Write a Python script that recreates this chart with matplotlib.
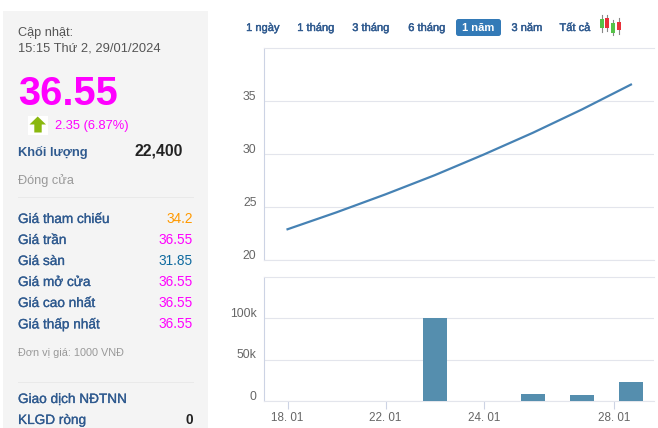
import matplotlib
matplotlib.use("Agg")
import matplotlib.pyplot as plt
import matplotlib.patheffects as pe
from matplotlib.patches import Rectangle, FancyBboxPatch, Polygon
from matplotlib.transforms import ScaledTranslation

W, H = 658, 428
plt.rcParams["font.family"] = ["Liberation Sans", "DejaVu Sans"]

# du lieu
days = [0, 1, 2, 3, 4, 5, 6, 7]
prices = [22.9, 24.5, 26.2, 28.0, 29.95, 32.0, 34.2, 36.55]
volumes = [0, 0, 0, 99500, 0, 8800, 7600, 22400]
tick_pos = [0, 2, 4, 6.66]
tick_labels = ["18. 01", "22. 01", "24. 01", "28. 01"]
price_ticks = [20, 25, 30, 35]
vol_ticks = [0, 50000, 100000]
vol_labels = ["0", "50k", "100k"]
periods = ["1 ngày", "1 tháng", "3 tháng", "6 tháng", "1 năm", "3 năm", "Tất cả"]
period_x = [263, 316, 371, 427, 478, 527, 575]
stats = [("Giá tham chiếu", "34.2", "#ff9900"),
         ("Giá trần", "36.55", "#ff00ff"),
         ("Giá sàn", "31.85", "#0f6a9f"),
         ("Giá mở cửa", "36.55", "#ff00ff"),
         ("Giá cao nhất", "36.55", "#ff00ff"),
         ("Giá thấp nhất", "36.55", "#ff00ff")]

BLUE = "#2f5a8f"
GRID = "#e3e5ec"
AXIS = "#ccd3e4"
LABEL = "#666666"


def px_axes(x0, y0, x1, y1):
    return fig.add_axes([x0 / W, 1 - y1 / H, (x1 - x0) / W, (y1 - y0) / H])


def heavy(color, w=0.2):
    return [pe.withStroke(linewidth=w, foreground=color)]


fig = plt.figure(figsize=(W / 100, H / 100), dpi=100)

# pannello sinistro + testi in coordinate pixel
bg = fig.add_axes([0, 0, 1, 1])
bg.set_xlim(0, W)
bg.set_ylim(H, 0)
bg.axis("off")
bg.add_patch(Rectangle((3, 11), 205, 417, color="#f4f4f4", lw=0))

bg.text(18, 33, "Cập nhật:", fontsize=9.2, color="#555555", va="center")
bg.text(18, 48, "15:15 Thứ 2, 29/01/2024", fontsize=9.3, color="#555555", va="center")
bg.text(18, 94, "36.55", fontsize=28.6, color="#ff00ff", va="center", fontweight="bold")
bg.add_patch(Rectangle((28, 116), 20, 19, color="white", lw=0))
bg.add_patch(Polygon([(29.5, 124.5), (37.7, 116.5), (46, 124.5), (41.7, 124.5), (41.7, 132.5),
                      (34.3, 132.5), (34.3, 124.5)], closed=True, color="#8ab80f", lw=0))
bg.text(55, 125.5, "2.35 (6.87%)", fontsize=9.3, color="#ff00ff", va="center")
bg.text(18, 152.5, "Khối lượng", fontsize=9.3, color=BLUE, va="center", fontweight="bold")
bg.text(183, 150.5, "22,400", fontsize=11.3, color="#222222", va="center", ha="right", fontweight="bold")
bg.text(18, 180.5, "Đóng cửa", fontsize=9.2, color="#999999", va="center")
bg.plot([18, 193], [197, 197], color="#e9e9e9", lw=0.7)

for i, (name, val, col) in enumerate(stats):
    y = 219 + i * 21
    bg.text(18, y, name, fontsize=9.8, color=BLUE, va="center", path_effects=heavy(BLUE))
    bg.text(192.5, y, val, fontsize=9.8, color=col, va="center", ha="right")

bg.text(18, 353.5, "Đơn vị giá: 1000 VNĐ", fontsize=7.8, color="#999999", va="center")
bg.plot([18, 193], [382, 382], color="#e9e9e9", lw=0.7)
bg.text(18, 399, "Giao dịch NĐTNN", fontsize=9.8, color=BLUE, va="center", path_effects=heavy(BLUE))
bg.text(18, 420, "KLGD ròng", fontsize=9.8, color=BLUE, va="center", path_effects=heavy(BLUE))
bg.text(192.5, 420, "0", fontsize=9.8, color="#222222", va="center", ha="right", fontweight="bold")

# bottoni periodo
bg.add_patch(FancyBboxPatch((456, 19), 45, 17, boxstyle="round,pad=0,rounding_size=2.5",
                            color="#337ab7", lw=0))
for label, x in zip(periods, period_x):
    active = label == "1 năm"
    bg.text(x, 28, label, fontsize=8, ha="center", va="center",
            color="white" if active else BLUE, fontweight="bold" if active else "normal",
            path_effects=None if active else heavy(BLUE, 0.3))

# icona candele
for x, y0, y1, w0, w1, c in [(600, 19, 28, 15, 32, "#55c248"), (605.3, 18, 28, 15, 31, "#e8303a"),
                             (611, 23, 33, 20, 35, "#55c248"), (616.5, 22, 30, 18, 34, "#e8303a")]:
    bg.plot([x + 2, x + 2], [w0, w1], color="#888888", lw=0.8)
    bg.add_patch(Rectangle((x, y0), 4, y1 - y0, color=c, lw=0, zorder=3))

# grafico prezzi
ax = px_axes(263.5, 48, 654, 260)
ax.set_facecolor("none")
ax.plot(days, prices, color="#4682b4", lw=1.6)
ax.set_ylim(20, 40)
ax.set_yticks(price_ticks)
ax.set_xlim(-0.49, 7.47)
ax.set_xticks([])

# grafico volumi
ax2 = px_axes(263.5, 276.5, 654, 401)
ax2.set_facecolor("none")
ax2.bar(days, volumes, width=0.49, color="#558eae", zorder=3)
ax2.set_ylim(0, 150000)
ax2.set_yticks(vol_ticks)
ax2.set_yticklabels(vol_labels)
ax2.set_xlim(-0.49, 7.47)
ax2.set_xticks(tick_pos)
ax2.set_xticklabels(tick_labels)

down = ScaledTranslation(0, -2 / 100, fig.dpi_scale_trans)
for a in (ax, ax2):
    a.grid(axis="y", color=GRID, lw=0.8)
    a.set_axisbelow(True)
    a.spines["right"].set_visible(False)
    for s in ("left", "bottom", "top"):
        a.spines[s].set_linewidth(0.8)
    a.spines["left"].set_color(AXIS)
    a.spines["bottom"].set_color(GRID)
    a.spines["top"].set_color(GRID)
    a.tick_params(axis="y", length=0, pad=5, labelsize=8.8, labelcolor=LABEL)
    a.tick_params(axis="x", length=5.5, width=0.8, color=AXIS, pad=2.5, labelsize=8.4, labelcolor=LABEL)
    for lab in a.get_yticklabels():
        lab.set_verticalalignment("bottom")
        lab.set_transform(lab.get_transform() + down)

fig.savefig("out.png", dpi=100)
